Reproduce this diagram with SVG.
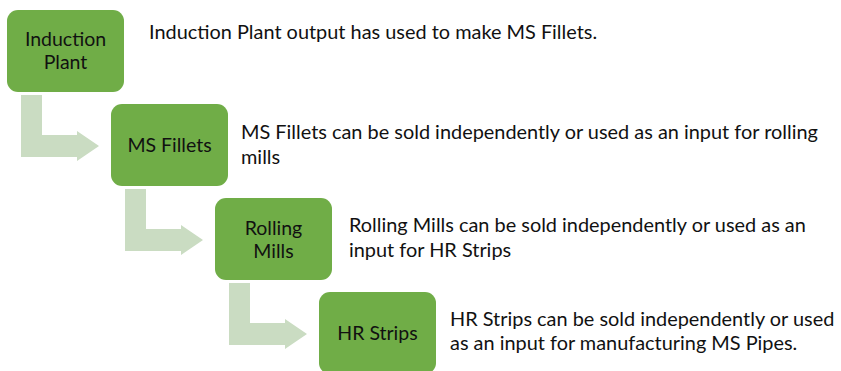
<svg xmlns="http://www.w3.org/2000/svg" width="841" height="371" viewBox="0 0 841 371">
<style>
.box{fill:#70ad47;}
.arr{fill:#cadcc2;}
.bt{font-family:Lato,"Open Sans",sans-serif;font-size:19.5px;fill:#111;text-anchor:middle;}
.dt{font-family:Lato,"Open Sans",sans-serif;font-size:19.9px;fill:#111;}
</style>
<rect width="841" height="371" fill="#fff"/>
<g id="connectors">
<polygon class="arr" points="21,95 42,95 42,135 77,135 77,131 99,146 77,161 77,157 21,157"/>
<polygon class="arr" points="125,189 146,189 146,229 181,229 181,225 203,240 181,255 181,251 125,251"/>
<polygon class="arr" points="229,283 250,283 250,323 285,323 285,319 307,334 285,349 285,345 229,345"/>
</g>
<g id="n1">
<rect class="box" x="7" y="10" width="117" height="82" rx="11"/>
<text class="bt" x="65.5" y="46">Induction</text>
<text class="bt" x="65.5" y="69">Plant</text>
</g>
<g id="n2">
<rect class="box" x="111" y="104" width="117" height="82" rx="11"/>
<text class="bt" x="169.5" y="152">MS Fillets</text>
</g>
<g id="n3">
<rect class="box" x="215" y="198" width="117" height="82" rx="11"/>
<text class="bt" x="273.5" y="235">Rolling</text>
<text class="bt" x="273.5" y="258">Mills</text>
</g>
<g id="n4">
<rect class="box" x="319" y="292" width="117" height="82" rx="11"/>
<text class="bt" x="377.5" y="340">HR Strips</text>
</g>
<g id="desc">
<text class="dt" x="149" y="39">Induction Plant output has used to make MS Fillets.</text>
<text class="dt" x="241" y="139">MS Fillets can be sold independently or used as an input for rolling</text>
<text class="dt" x="241" y="164">mills</text>
<text class="dt" x="349" y="232">Rolling Mills can be sold independently or used as an</text>
<text class="dt" x="349" y="257">input for HR Strips</text>
<text class="dt" x="450" y="326">HR Strips can be sold independently or used</text>
<text class="dt" x="450" y="350">as an input for manufacturing MS Pipes.</text>
</g>
</svg>
